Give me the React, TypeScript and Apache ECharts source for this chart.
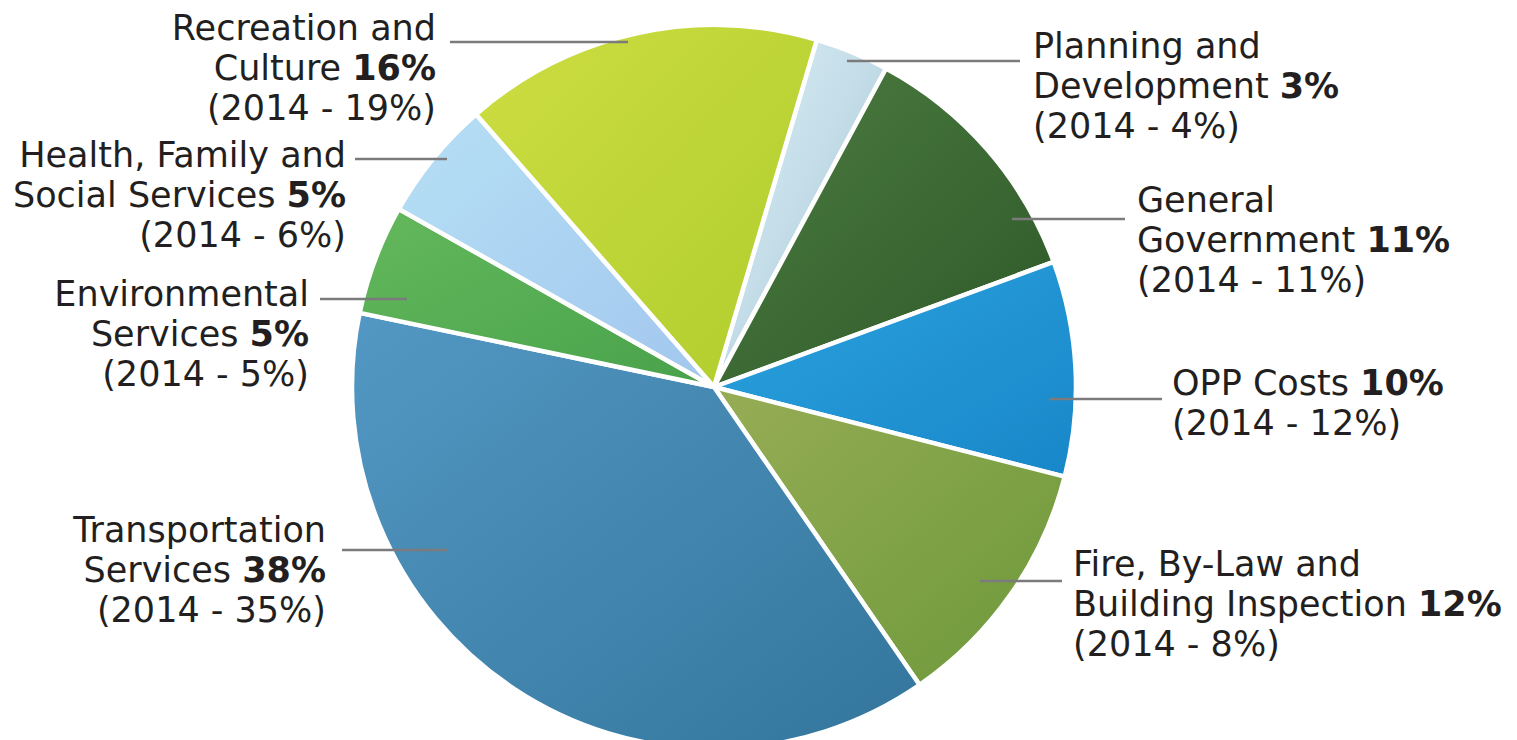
import React, { useEffect, useRef } from 'react';
import * as echarts from 'echarts';

// ---- Data ----
const categories = [
  'Planning and Development',
  'General Government',
  'OPP Costs',
  'Fire, By-Law and Building Inspection',
  'Transportation Services',
  'Environmental Services',
  'Health, Family and Social Services',
  'Recreation and Culture',
];
const labelNameLines = [
  ['Planning and', 'Development'],
  ['General', 'Government'],
  ['OPP Costs'],
  ['Fire, By-Law and', 'Building Inspection'],
  ['Transportation', 'Services'],
  ['Environmental', 'Services'],
  ['Health, Family and', 'Social Services'],
  ['Recreation and', 'Culture'],
];
// shares as labelled (rounded %)
const share2015 = [3, 11, 10, 12, 38, 5, 5, 16];
const share2014 = [4, 11, 12, 8, 35, 5, 6, 19];
// slice sizes (unrounded %)
const sliceShares = [3.3, 11.5, 9.6, 11.4, 37.9, 4.9, 5.4, 16.0];

// ---- Styles ----
const colorsLight = ['#def1f9', '#4d7d41', '#2ca2de', '#97ad55', '#5398c4', '#64b85c', '#b6e0f5', '#cddd42'];
const colorsDark = ['#a6c6d4', '#2d5828', '#1887c9', '#6c983a', '#33759b', '#48a24b', '#a2c6ee', '#afcd2c'];

// label layout (pixel positions in the 1517x740 canvas)
// x: text anchor, top: top of text block, align, line: [fromX, toX, y]
const labelLayouts = [
  { x: 1033, top: 26, align: 'left', line: [847, 1020, 61] },
  { x: 1137, top: 180, align: 'left', line: [1012, 1125, 219] },
  { x: 1172, top: 363, align: 'left', line: [1049, 1162, 399] },
  { x: 1073, top: 544, align: 'left', line: [980, 1062, 581] },
  { x: 326, top: 510, align: 'right', line: [447, 342, 550] },
  { x: 309, top: 274, align: 'right', line: [407, 320, 299] },
  { x: 346, top: 135, align: 'right', line: [447, 355, 159] },
  { x: 436, top: 8, align: 'right', line: [628, 450, 42] },
];

const FONT = '"DejaVu Sans", sans-serif';
const TEXT_COLOR = '#231f20';
const LINE_COLOR = '#7b7b7d';

export default function App() {
  const ref = useRef<HTMLDivElement>(null);

  useEffect(() => {
    document.body.style.margin = '0';
    if (!ref.current) return;
    const chart = echarts.init(ref.current, undefined, { renderer: 'svg' });

    const data = categories.map((name, i) => ({
      name,
      value: sliceShares[i],
      itemStyle: {
        color: new echarts.graphic.LinearGradient(0, 0, 1, 1, [
          { offset: 0, color: colorsLight[i] },
          { offset: 1, color: colorsDark[i] },
        ]),
      },
    }));

    const baseText = { fontSize: 35, fontFamily: FONT, color: TEXT_COLOR, lineHeight: 40 };

    const guideLines = labelLayouts.map((L) => ({
      type: 'line',
      z: 100,
      silent: true,
      shape: { x1: L.line[0], y1: L.line[2], x2: L.line[1], y2: L.line[2] },
      style: { stroke: LINE_COLOR, lineWidth: 2.5 },
    }));

    chart.setOption({
      animation: false,
      backgroundColor: '#ffffff',
      graphic: guideLines,
      series: [
        {
          type: 'pie',
          center: [714, 387],
          radius: 362,
          startAngle: 73.5,
          clockwise: true,
          avoidLabelOverlap: false,
          silent: true,
          itemStyle: { borderColor: '#ffffff', borderWidth: 4.5 },
          label: {
            show: true,
            position: 'outside',
            formatter: (p: any) => {
              const i = p.dataIndex;
              const s = labelLayouts[i].align === 'right' ? 'R' : 'L';
              const lines = labelNameLines[i];
              const out: string[] = [];
              lines.forEach((ln, k) => {
                if (k === lines.length - 1) {
                  out.push(`{n${s}|${ln} }{b${s}|${share2015[i]}%}`);
                } else {
                  out.push(`{n${s}|${ln}}`);
                }
              });
              out.push(`{n${s}|(2014 - ${share2014[i]}%)}`);
              return out.join('\n');
            },
            ...baseText,
            rich: {
              nL: { ...baseText, align: 'left' },
              bL: { ...baseText, align: 'left', fontWeight: 'bold' },
              nR: { ...baseText, align: 'right' },
              bR: { ...baseText, align: 'right', fontWeight: 'bold' },
            },
          },
          labelLine: { show: false },
          labelLayout: (params: any) => {
            const L = labelLayouts[params.dataIndex];
            return {
              x: L.x,
              y: L.top,
              align: L.align,
              verticalAlign: 'top',
            };
          },
          data,
        },
      ],
    });

    return () => {
      chart.dispose();
    };
  }, []);

  return (
    <div
      ref={ref}
      style={{ position: 'absolute', left: 0, top: 0, width: 1517, height: 740 }}
    />
  );
}
